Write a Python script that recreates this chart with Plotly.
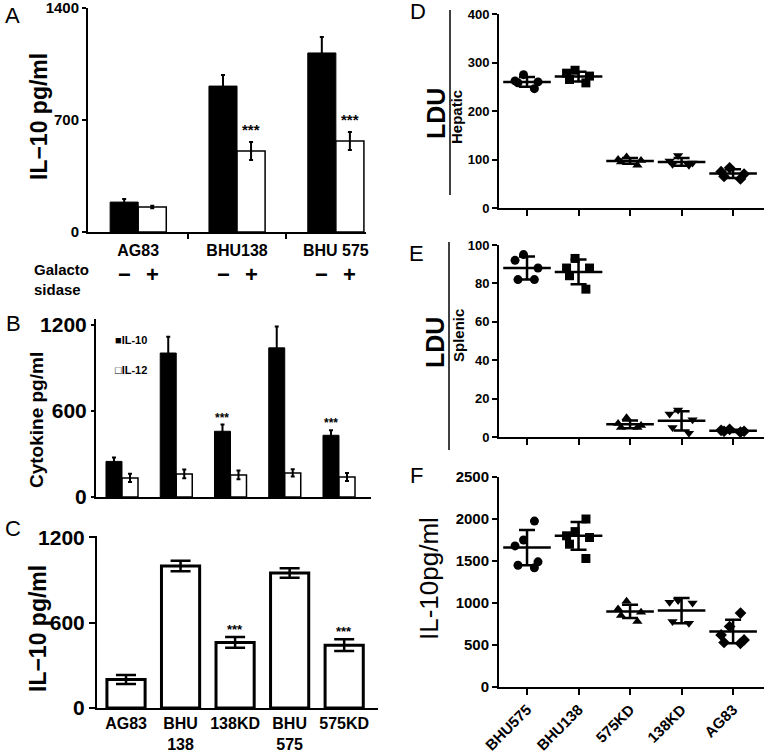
import plotly.graph_objects as go

W, H = 768, 753

# ---- panel A: IL-10 with / without galactosidase
a_strains = ["AG83", "BHU138", "BHU 575"]
a_untreated = [187, 912, 1119]
a_untreated_err = [19, 69, 100]
a_treated = [156, 506, 569]
a_treated_err = [8, 56, 56]

# ---- panel B: IL-10 / IL-12 per strain
b_il10 = [248, 1003, 458, 1039, 430]
b_il10_err = [28, 113, 47, 149, 35]
b_il12 = [133, 161, 154, 168, 140]
b_il12_err = [29, 30, 30, 25, 28]

# ---- panel C: IL-10, knock-downs
c_labels = ["AG83", "BHU<br>138", "138KD", "BHU<br>575", "575KD"]
c_il10 = [201, 999, 461, 950, 442]
c_il10_err = [32, 37, 38, 33, 41]

# ---- panels D-F: in vivo groups
groups = ["BHU575", "BHU138", "575KD", "138KD", "AG83"]

d_hepatic = [[275, 262, 260, 258, 246], [284, 278, 272, 265, 258],
             [105, 100, 98, 95, 88], [108, 97, 93, 90, 88], [83, 75, 70, 65, 60]]
d_mean = [260, 271, 97, 95, 71]
d_sd = [10, 10, 6, 8, 9]

e_splenic = [[95, 92, 88, 82, 82], [93, 88, 88, 84, 77],
             [10, 7, 6, 5, 5], [14, 12, 9, 5, 2], [4, 3.5, 3, 3, 2.5]]
e_mean = [88, 86, 6.6, 8.4, 3.2]
e_sd = [6, 6.5, 2, 5, 0.6]

f_il10 = [[1975, 1750, 1680, 1490, 1450, 1420], [2000, 1850, 1800, 1780, 1700, 1530],
          [1020, 930, 890, 850, 780], [1030, 1010, 1000, 780, 760],
          [880, 720, 620, 560, 530, 520]]
f_mean = [1660, 1800, 900, 910, 660]
f_sd = [210, 165, 80, 150, 140]

symbols = ["circle", "square", "triangle-up", "triangle-down", "diamond"]

FONT = "Liberation Sans, Arial, sans-serif"


def fx(p):
    return p / W


def fy(p):
    return 1 - p / H


fig = go.Figure()

# panel A bars
wa = 0.284
fig.add_trace(go.Bar(x=list(range(3)), y=a_untreated, width=wa, offset=-wa,
                     marker=dict(color="black", line=dict(color="black", width=1)),
                     error_y=dict(type="data", array=a_untreated_err, color="black",
                                  thickness=2, width=2),
                     xaxis="x", yaxis="y", showlegend=False))
fig.add_trace(go.Bar(x=list(range(3)), y=a_treated, width=wa, offset=0,
                     marker=dict(color="white", line=dict(color="black", width=1.5)),
                     error_y=dict(type="data", array=a_treated_err, color="black",
                                  thickness=2, width=2),
                     xaxis="x", yaxis="y", showlegend=False))

# panel B bars
wb = 0.295
fig.add_trace(go.Bar(x=list(range(5)), y=b_il10, width=wb, offset=-wb, name="IL-10",
                     marker=dict(color="black", line=dict(color="black", width=1)),
                     error_y=dict(type="data", array=b_il10_err, color="black",
                                  thickness=2, width=2),
                     xaxis="x2", yaxis="y2", showlegend=False))
fig.add_trace(go.Bar(x=list(range(5)), y=b_il12, width=wb, offset=0, name="IL-12",
                     marker=dict(color="white", line=dict(color="black", width=1.5)),
                     error_y=dict(type="data", array=b_il12_err, color="black",
                                  thickness=2, width=2),
                     xaxis="x2", yaxis="y2", showlegend=False))

# panel C bars
wc = 0.70
fig.add_trace(go.Bar(x=list(range(5)), y=c_il10, width=wc,
                     marker=dict(color="white", line=dict(color="black", width=3)),
                     error_y=dict(type="data", array=c_il10_err, color="black",
                                  thickness=2.5, width=10),
                     xaxis="x3", yaxis="y3", showlegend=False))

# panels D-F scatter with mean +/- SD
for pts, means, sds, ax in [(d_hepatic, d_mean, d_sd, "4"),
                            (e_splenic, e_mean, e_sd, "5"),
                            (f_il10, f_mean, f_sd, "6")]:
    for i, vals in enumerate(pts):
        fig.add_trace(go.Box(x=[i] * len(vals), y=vals, boxpoints="all", jitter=1.0,
                             pointpos=0, width=0.55, fillcolor="rgba(0,0,0,0)",
                             line=dict(color="rgba(0,0,0,0)"),
                             marker=dict(symbol=symbols[i], size=9, color="black"),
                             xaxis="x" + ax, yaxis="y" + ax, showlegend=False))
    fig.add_trace(go.Scatter(x=list(range(5)), y=means, mode="markers",
                             marker=dict(symbol="line-ew", size=34,
                                         line=dict(width=2.5, color="black")),
                             error_y=dict(type="data", array=sds, color="black",
                                          thickness=2.5, width=8),
                             xaxis="x" + ax, yaxis="y" + ax, showlegend=False))

line_kw = dict(showline=True, linecolor="black", linewidth=2, showgrid=False,
               zeroline=False, fixedrange=True, automargin=False,
               ticklabeloverflow="allow")


def yax(dom, rng, dtick, font, ticklen=5):
    return dict(domain=[fy(dom[0]), fy(dom[1])], range=rng, tickmode="linear", tick0=0,
                dtick=dtick, ticks="outside", ticklen=ticklen, tickwidth=2,
                tickcolor="black", tickfont=font, **line_kw)


def bold(s):
    return dict(family=FONT, size=s, color="black", weight="bold")


xdef = dict(domain=[fx(499), fx(764)], range=[-0.544, 4.6], tickmode="array",
            tickvals=list(range(5)), ticks="outside", ticklen=6, tickwidth=2,
            tickcolor="black", **line_kw)

fig.update_layout(
    template="none",
    width=W, height=H, margin=dict(l=0, r=0, t=0, b=0, pad=0),
    paper_bgcolor="white", plot_bgcolor="white", barmode="overlay",
    font=dict(family=FONT, color="black"),
    xaxis=dict(domain=[fx(88), fx(366)], range=[-0.508, 2.305], anchor="y",
               tickmode="array", tickvals=list(range(3)), ticktext=a_strains, ticks="",
               tickfont=bold(16), ticklabelstandoff=3,
               minor=dict(tickmode="array", tickvals=[0.5, 1.5], ticks="outside",
                          ticklen=5, tickwidth=2, tickcolor="black"),
               **line_kw),
    yaxis=dict(anchor="x", **yax((232, 8), [0, 1400], 700, bold(15), 4)),
    xaxis2=dict(domain=[fx(96), fx(371)], range=[-0.479, 4.59], anchor="y2",
                showticklabels=False, ticks="", **line_kw),
    yaxis2=dict(anchor="x2", **yax((497, 319), [0, 1240], 600, bold(21), 3)),
    xaxis3=dict(domain=[fx(97), fx(378)], range=[-0.532, 4.62], anchor="y3",
                tickmode="array", tickvals=list(range(5)), ticktext=c_labels, ticks="",
                tickfont=bold(16), **line_kw),
    yaxis3=dict(anchor="x3", **yax((708, 536), [0, 1210], 600, bold(21), 6)),
    xaxis4=dict(anchor="y4", showticklabels=False, **xdef),
    yaxis4=dict(anchor="x4", **yax((208, 14), [0, 400], 100, bold(13))),
    xaxis5=dict(anchor="y5", showticklabels=False, **xdef),
    yaxis5=dict(anchor="x5", **yax((437, 245), [0, 100], 20, bold(13))),
    xaxis6=dict(anchor="y6", ticktext=groups, tickangle=-45, tickfont=bold(15), **xdef),
    yaxis6=dict(anchor="x6", **yax((687, 477), [0, 2500], 500, bold(15))),
)

ann = []


def text(x, y, s, font, angle=0, xanchor="center", yanchor="middle", align="center"):
    ann.append(dict(x=fx(x), y=fy(y), xref="paper", yref="paper", text=s, showarrow=False,
                    font=font, textangle=angle, xanchor=xanchor, yanchor=yanchor,
                    align=align))


# panel letters
for letter, (x, y) in zip("ABCDEF", [(12, 16), (13, 323), (13, 528),
                                     (418, 12), (416, 254), (416, 475)]):
    text(x, y, letter, dict(family=FONT, size=22, color="black"))

# axis titles
text(39, 117, "IL−10 pg/ml", bold(23), -90)
text(37, 420, "Cytokine pg/ml", bold(19), -90)
text(38, 629, "IL−10 pg/ml", bold(23), -90)
text(436, 114, "LDU", bold(25), -90)
text(457, 117, "Hepatic", bold(15), -90)
text(435, 343, "LDU", bold(25), -90)
text(458, 336, "Splenic", bold(15), -90)
text(429, 579, "IL-10pg/ml", dict(family=FONT, size=26, color="black"), -90)

# galactosidase row under panel A
text(32, 279, "Galacto<br>sidase", bold(15), xanchor="left", align="left")
for i in range(3):
    ann.append(dict(x=i - wa / 2, y=fy(274), xref="x", yref="paper", text="−",
                    showarrow=False, font=bold(22), borderpad=0))
    ann.append(dict(x=i + wa / 2, y=fy(274), xref="x", yref="paper", text="+",
                    showarrow=False, font=bold(22), borderpad=0))

# legend of panel B
text(113, 340, "■IL-10", bold(11), xanchor="left")
text(113, 370, "□IL-12", bold(11), xanchor="left")

# significance marks
for i in (1, 2):
    ann.append(dict(x=i + wa / 2, y=a_treated[i] + a_treated_err[i], xref="x", yref="y",
                    text="***", showarrow=False, font=bold(15), yanchor="bottom", yshift=2))
for i in (2, 4):
    ann.append(dict(x=i - wb / 2, y=b_il10[i] + b_il10_err[i], xref="x2", yref="y2",
                    text="***", showarrow=False, font=bold(12), yanchor="bottom", yshift=-2))
for i in (2, 4):
    ann.append(dict(x=i, y=c_il10[i] + c_il10_err[i], xref="x3", yref="y3",
                    text="***", showarrow=False, font=bold(13), yanchor="bottom", yshift=-2))

fig.update_layout(annotations=ann)

# divider lines between LDU and organ name
fig.add_shape(type="line", xref="paper", yref="paper", x0=fx(450), x1=fx(450),
              y0=fy(10), y1=fy(195), line=dict(color="black", width=1.5))
fig.add_shape(type="line", xref="paper", yref="paper", x0=fx(449), x1=fx(449),
              y0=fy(242), y1=fy(450), line=dict(color="black", width=1.5))

# drop the default 8px body margin so the figure fills the window exactly
fig.write_html("out.html", config={"displayModeBar": False},
               post_script="document.body.style.margin='0px';")
